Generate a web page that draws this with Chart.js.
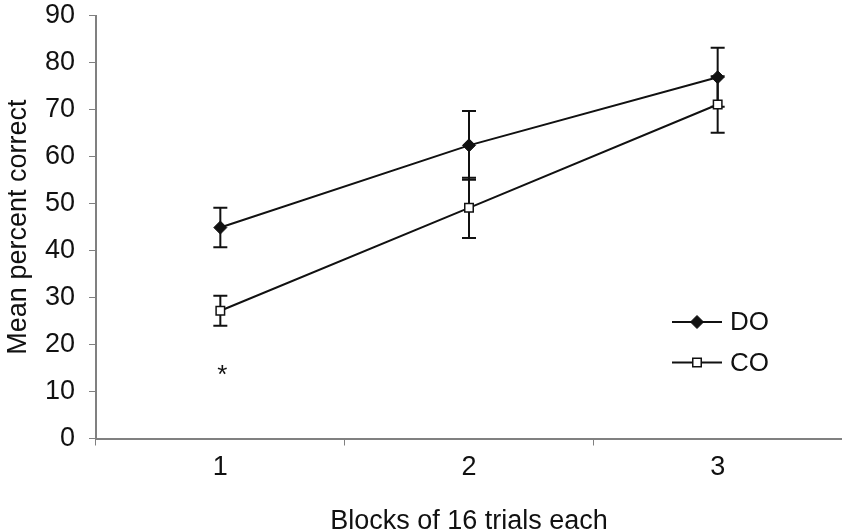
<!DOCTYPE html>
<html>
<head>
<meta charset="utf-8">
<script src="https://cdn.jsdelivr.net/npm/chart.js@4"></script>
<style>
  html, body { margin: 0; padding: 0; background: #fff; }
</style>
</head>
<body>
<canvas id="grafico" width="842" height="532"></canvas>
<script>
const blocos = ['1', '2', '3'];
const mediaDO = [44.9, 62.4, 76.9];
const erroDO = [4.2, 7.3, 6.3];
const mediaCO = [27.2, 49.1, 71.1];
const erroCO = [3.2, 6.4, 6.0];
const marcas = [{ x: '1', y: 14.6, texto: '*' }];
const ticksY = [0, 10, 20, 30, 40, 50, 60, 70, 80, 90];

const fonte = '"Liberation Sans", Arial, sans-serif';
const preto = '#111';
const cinza = '#808080';
Chart.defaults.font.family = fonte;
Chart.defaults.color = preto;

// barras de erro (desenhadas antes dos pontos)
const barrasDeErro = {
    id: 'barrasDeErro',
    beforeDatasetsDraw(chart) {
        const { ctx, scales: { y } } = chart;
        ctx.save();
        ctx.strokeStyle = preto;
        ctx.lineWidth = 2;
        chart.data.datasets.forEach((ds, i) => {
            chart.getDatasetMeta(i).data.forEach((pt, j) => {
                const topo = y.getPixelForValue(ds.data[j] + ds.erro[j]);
                const base = y.getPixelForValue(ds.data[j] - ds.erro[j]);
                ctx.beginPath();
                ctx.moveTo(pt.x, topo); ctx.lineTo(pt.x, base);
                ctx.moveTo(pt.x - 7, topo); ctx.lineTo(pt.x + 7, topo);
                ctx.moveTo(pt.x - 7, base); ctx.lineTo(pt.x + 7, base);
                ctx.stroke();
            });
        });
        ctx.restore();
    }
};

// asterisco de significancia
const asteriscos = {
    id: 'asteriscos',
    afterDatasetsDraw(chart) {
        const { ctx, scales: { x, y } } = chart;
        ctx.save();
        ctx.fillStyle = preto;
        ctx.font = '26px ' + fonte;
        ctx.textAlign = 'center';
        ctx.textBaseline = 'middle';
        marcas.forEach(m => {
            const px = x.getPixelForValue(blocos.indexOf(m.x)) + 2;
            const py = y.getPixelForValue(m.y) + 6;
            ctx.fillText(m.texto, px, py);
        });
        ctx.restore();
    }
};

// legenda com linha + marcador, dentro da area do grafico
const legendaLinhas = {
    id: 'legendaLinhas',
    afterDraw(chart) {
        const ctx = chart.ctx;
        ctx.save();
        ctx.font = '26px ' + fonte;
        ctx.textBaseline = 'middle';
        chart.data.datasets.forEach((ds, i) => {
            const yy = 322 + i * 40.5;
            ctx.strokeStyle = preto;
            ctx.lineWidth = 2;
            ctx.beginPath();
            ctx.moveTo(672, yy); ctx.lineTo(722, yy);
            ctx.stroke();
            ctx.fillStyle = ds.pointBackgroundColor;
            ctx.strokeStyle = ds.pointBorderColor;
            ctx.lineWidth = ds.pointBorderWidth;
            Chart.helpers.drawPoint(ctx, {
                pointStyle: ds.pointStyle,
                radius: ds.pointRadius,
                rotation: 0,
                borderWidth: ds.pointBorderWidth
            }, 697, yy);
            ctx.fillStyle = preto;
            ctx.textAlign = 'left';
            ctx.fillText(ds.label, 730, yy + 1);
        });
        ctx.restore();
    }
};

const grafico = new Chart(document.getElementById('grafico'), {
    type: 'line',
    data: {
        labels: blocos,
        datasets: [
            {
                label: 'DO',
                data: mediaDO,
                erro: erroDO,
                borderColor: preto,
                borderWidth: 2,
                pointStyle: 'rectRot',
                pointRadius: 6.5,
                pointBackgroundColor: preto,
                pointBorderColor: preto,
                pointBorderWidth: 1,
                tension: 0
            },
            {
                label: 'CO',
                data: mediaCO,
                erro: erroCO,
                borderColor: preto,
                borderWidth: 2,
                pointStyle: 'rect',
                pointRadius: 6,
                pointBackgroundColor: '#fff',
                pointBorderColor: preto,
                pointBorderWidth: 1.5,
                tension: 0
            }
        ]
    },
    options: {
        responsive: false,
        animation: false,
        devicePixelRatio: 1,
        layout: { autoPadding: false, padding: 0 },
        plugins: {
            legend: { display: false },
            tooltip: { enabled: false }
        },
        scales: {
            x: {
                offset: true,
                grid: { offset: true, drawOnChartArea: false, tickLength: 7, color: cinza, lineWidth: 1 },
                border: { color: cinza, width: 2 },
                ticks: { font: { size: 27 }, padding: 6, color: preto },
                title: {
                    display: true,
                    text: 'Blocks of 16 trials each',
                    font: { size: 27, lineHeight: 0.8 },
                    padding: { top: 0, bottom: 0 },
                    color: preto
                },
                afterFit(scale) {
                    scale.height = 93.5;
                    scale.paddingLeft = 0;
                    scale.paddingRight = 0;
                }
            },
            y: {
                min: 0,
                max: 90,
                afterBuildTicks(scale) { scale.ticks = ticksY.map(v => ({ value: v })); },
                grid: { drawOnChartArea: false, tickLength: 7, color: cinza, lineWidth: 1 },
                border: { color: cinza, width: 2 },
                ticks: { font: { size: 27 }, padding: 14, color: preto },
                title: {
                    display: true,
                    text: 'Mean percent correct',
                    font: { size: 27, lineHeight: 1 },
                    padding: { top: 5, bottom: 0 },
                    color: preto
                },
                afterFit(scale) {
                    scale.width = 96;
                    scale.paddingTop = 15.7;
                    scale.paddingBottom = 0;
                }
            }
        }
    },
    plugins: [barrasDeErro, asteriscos, legendaLinhas]
});
</script>
</body>
</html>
